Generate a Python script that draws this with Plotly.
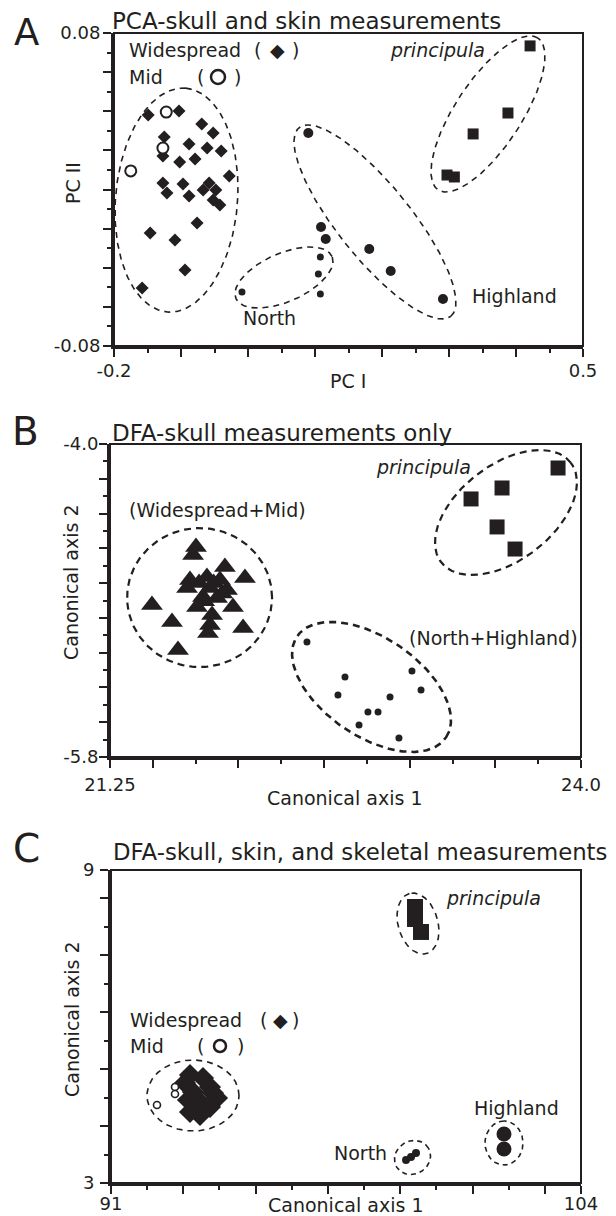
import numpy as np
import plotly.graph_objects as go

W, H = 616, 1216
OFF = 8  # page body margin offset of the rendered figure
INK = "#231f20"
FONT = "DejaVu Sans"

# ---------------- Panel A: PCA (PC I, PC II) ----------------
a_wide_x = [-0.149, -0.103, -0.069, -0.052, -0.125, -0.088, -0.061, -0.040, -0.127, -0.102,
            -0.079, -0.028, -0.127, -0.097, -0.058, -0.121, -0.088, -0.067, -0.048, -0.052,
            -0.042, -0.076, -0.146, -0.109, -0.094, -0.158]
a_wide_y = [0.0381, 0.0401, 0.0335, 0.0289, 0.0268, 0.0233, 0.0212, 0.0197, 0.0171, 0.0141,
            0.0156, 0.0069, 0.0033, 0.0028, 0.0033, -0.0018, -0.0033, -0.0003, -0.0003, -0.0054,
            -0.0079, -0.0171, -0.0222, -0.0258, -0.0411, -0.0504]
a_mid_x = [-0.122, -0.127, -0.175]
a_mid_y = [0.0396, 0.0212, 0.0095]
a_high_x = [0.090, 0.109, 0.116, 0.181, 0.213, 0.291]
a_high_y = [0.0289, -0.0192, -0.0253, -0.0304, -0.0417, -0.0560]
a_north_x = [-0.009, 0.108, 0.105, 0.108]
a_north_y = [-0.0524, -0.0345, -0.0432, -0.0534]
a_princ_x = [0.421, 0.388, 0.336, 0.297, 0.308]
a_princ_y = [0.0734, 0.0391, 0.0284, 0.0074, 0.0064]

# ---------------- Panel B: DFA skull only ----------------
b_wm_x = [21.752, 21.735, 21.921, 22.038, 21.717, 21.816, 21.892, 21.700, 21.834, 21.933, 21.793,
          21.875, 21.495, 21.758, 21.968, 21.846, 21.612, 21.834, 22.027, 21.822, 21.647,
          21.770, 21.855, 21.905, 21.800]
b_wm_y = [-4.592, -4.638, -4.707, -4.771, -4.782, -4.765, -4.782, -4.828, -4.828, -4.840, -4.880,
          -4.886, -4.926, -4.937, -4.937, -4.983, -5.024, -5.041, -5.058, -5.087, -5.185,
          -4.800, -4.800, -4.860, -4.905]
b_princ_x = [23.866, 23.539, 23.358, 23.510, 23.615]
b_princ_y = [-4.138, -4.253, -4.316, -4.477, -4.604]
b_nh_x = [22.400, 22.622, 22.581, 22.756, 22.815, 22.704, 22.885, 23.013, 23.066, 22.937]
b_nh_y = [-5.139, -5.340, -5.443, -5.541, -5.541, -5.616, -5.455, -5.305, -5.415, -5.691]

# ---------------- Panel C: DFA skull, skin, skeletal ----------------
c_wide_x = [93.185, 93.545, 93.047, 93.738, 93.268, 93.821, 93.130, 93.932, 93.462, 93.185, 93.462, 93.738]
c_wide_y = [5.070, 5.013, 4.917, 4.840, 4.744, 4.725, 4.591, 4.629, 4.553, 4.361, 4.304, 4.457]
c_mid_x = [92.770, 92.770, 92.272]
c_mid_y = [4.840, 4.706, 4.495]
c_princ_x = [99.409, 99.409, 99.575]
c_princ_y = [8.291, 8.061, 7.812]
c_north_x = [99.160, 99.298, 99.436]
c_north_y = [3.441, 3.498, 3.575]
c_high_x = [101.870, 101.870]
c_high_y = [3.939, 3.652]

# axis ranges and tick labels
A_XR, A_YR = [-0.2, 0.5], [-0.08, 0.08]
B_XR, B_YR = [21.25, 24.0], [-5.8, -4.0]
C_XR, C_YR = [91, 104], [3, 9]
A_XLAB, A_YLAB = ["-0.2", "0.5"], ["-0.08", "0.08"]
B_XLAB, B_YLAB = ["21.25", "24.0"], ["-5.8", "-4.0"]
C_XLAB, C_YLAB = ["91", "104"], ["3", "9"]

# plot boxes in page pixels (left, right, top, bottom)
BOX = {1: (114, 583, 33, 346), 2: (110, 581, 444, 757), 3: (111, 581, 870, 1183)}


def fx(p):
    return (p - OFF) / W


def fy(p):
    return 1 - (p - OFF) / H


def ellipse(cx, cy, a_px, b_px, ang, xr, yr, box):
    x0, x1, y0, y1 = box
    sx = (x1 - x0) / (xr[1] - xr[0])
    sy = (y1 - y0) / (yr[1] - yr[0])
    t = np.linspace(0, 2 * np.pi, 241)
    th = np.radians(ang)
    u, v = a_px * np.cos(t), b_px * np.sin(t)
    dx = u * np.cos(th) - v * np.sin(th)
    dy = u * np.sin(th) + v * np.cos(th)
    return cx + dx / sx, cy + dy / sy


fig = go.Figure()


def add_ell(n, cx, cy, a, b, ang, xr, yr, width, dash):
    ex, ey = ellipse(cx, cy, a, b, ang, xr, yr, BOX[n])
    fig.add_trace(go.Scatter(x=ex, y=ey, mode="lines", xaxis=f"x{n if n > 1 else ''}",
                             yaxis=f"y{n if n > 1 else ''}",
                             line=dict(color=INK, width=width, dash=dash), hoverinfo="skip"))


def add_pts(n, xs, ys, symbol, size, fill=INK, lw=0):
    fig.add_trace(go.Scatter(x=xs, y=ys, mode="markers", xaxis=f"x{n if n > 1 else ''}",
                             yaxis=f"y{n if n > 1 else ''}", cliponaxis=False,
                             marker=dict(symbol=symbol, size=size, color=fill,
                                         line=dict(color=INK, width=lw))))


# Panel A ellipses and points
add_ell(1, -0.1067, -0.0054, 112.3, 61, 85.3, A_XR, A_YR, 1.6, "6px,5px")
add_ell(1, 0.1895, -0.0166, 121, 36.5, -51.2, A_XR, A_YR, 1.6, "6px,5px")
add_ell(1, 0.3582, 0.0386, 90.8, 33.1, 56.7, A_XR, A_YR, 1.6, "6px,5px")
add_ell(1, 0.0537, -0.0450, 52.4, 24.2, 23.6, A_XR, A_YR, 1.6, "6px,5px")
add_pts(1, a_wide_x, a_wide_y, "diamond", 10)
add_pts(1, a_mid_x, a_mid_y, "circle", 11, fill="white", lw=2)
add_pts(1, a_high_x, a_high_y, "circle", 10)
add_pts(1, a_north_x, a_north_y, "circle", 7)
add_pts(1, a_princ_x, a_princ_y, "square", 11)

# Panel B
add_ell(2, 21.773, -4.883, 72.5, 69.5, 0, B_XR, B_YR, 2.2, "7px,5px")
add_ell(2, 23.562, -4.394, 81.7, 47.7, 37.5, B_XR, B_YR, 2.2, "7px,5px")
add_ell(2, 22.777, -5.397, 90, 49.4, -34.2, B_XR, B_YR, 2.6, "7px,5px")
add_pts(2, b_wm_x, b_wm_y, "triangle-up", 19)
add_pts(2, b_princ_x, b_princ_y, "square", 15)
add_pts(2, b_nh_x, b_nh_y, "circle", 7)

# Panel C
add_ell(3, 93.268, 4.677, 46, 35.5, 0, C_XR, C_YR, 1.6, "6px,5px")
add_ell(3, 99.492, 7.974, 31.2, 19.9, 106, C_XR, C_YR, 1.6, "6px,5px")
add_ell(3, 99.340, 3.489, 18.5, 16.5, 30, C_XR, C_YR, 1.6, "5px,4px")
add_ell(3, 101.870, 3.767, 22, 19, 90, C_XR, C_YR, 1.6, "5px,4px")
add_pts(3, c_wide_x, c_wide_y, "diamond", 17)
add_pts(3, c_mid_x, c_mid_y, "circle", 7, fill="white", lw=1.6)
add_pts(3, c_princ_x, c_princ_y, "square", 16)
add_pts(3, c_north_x, c_north_y, "circle", 8)
add_pts(3, c_high_x, c_high_y, "circle", 15)


def axis(rng, major, minor, labels, dom, anchor, standoff):
    text = [labels[0]] + [""] * (len(major) - 2) + [labels[1]]
    return dict(range=rng, domain=dom, anchor=anchor, showline=True, linewidth=3, linecolor=INK,
                ticks="outside", ticklen=8, tickwidth=2, tickcolor=INK, tickmode="array",
                tickvals=major, ticktext=text, showgrid=False, zeroline=False, automargin=False,
                tickfont=dict(family=FONT, size=18, color=INK), ticklabelstandoff=standoff,
                minor=dict(tickmode="array", tickvals=minor, ticks="outside", ticklen=4,
                           tickwidth=2, tickcolor=INK, showgrid=False),
                fixedrange=True)


def xdom(n):
    b = BOX[n]
    return [fx(b[0]), fx(b[1])]


def ydom(n):
    b = BOX[n]
    return [fy(b[3]), fy(b[2])]


a_xmaj = [-0.2, -0.1, 0.0, 0.1, 0.2, 0.3, 0.4, 0.5]
a_xmin = [-0.15, -0.05, 0.05, 0.15, 0.25, 0.35, 0.45]
a_ymaj = [-0.08, -0.06, -0.04, -0.02, 0.0, 0.02, 0.04, 0.06, 0.08]
a_ymin = [-0.07, -0.05, -0.03, -0.01, 0.01, 0.03, 0.05, 0.07]
b_xmaj = [21.25, 21.5, 22.0, 22.5, 23.0, 23.5, 24.0]
b_xmin = [21.75, 22.25, 22.75, 23.25, 23.75]
b_ymaj = [-5.8, -5.6, -5.4, -5.2, -5.0, -4.8, -4.6, -4.4, -4.2, -4.0]
b_ymin = [-5.7, -5.5, -5.3, -5.1, -4.9, -4.7, -4.5, -4.3, -4.1]
c_xmaj = [91, 93, 95, 97, 99, 101, 103, 104]
c_xmin = [92, 94, 96, 98, 100, 102]
c_step = 6 / 11
c_ymaj = [3 + 2 * k * c_step for k in range(6)] + [9]
c_ymin = [3 + (2 * k + 1) * c_step for k in range(5)]

fig.update_layout(
    width=W, height=H, margin=dict(l=0, r=0, t=0, b=0, pad=0, autoexpand=False),
    paper_bgcolor="white", plot_bgcolor="white", showlegend=False,
    xaxis=axis(A_XR, a_xmaj, a_xmin, A_XLAB, xdom(1), "y", -2),
    yaxis=axis(A_YR, a_ymaj, a_ymin, A_YLAB, ydom(1), "x", -1),
    xaxis2=axis(B_XR, b_xmaj, b_xmin, B_XLAB, xdom(2), "y2", 1),
    yaxis2=axis(B_YR, b_ymaj, b_ymin, B_YLAB, ydom(2), "x2", -3),
    xaxis3=axis(C_XR, c_xmaj, c_xmin, C_XLAB, xdom(3), "y3", -6),
    yaxis3=axis(C_YR, c_ymaj, c_ymin, C_YLAB, ydom(3), "x3", 2),
)

# frame (thinner top/right edges)
for n in (1, 2, 3):
    s = "" if n == 1 else str(n)
    fig.add_shape(type="rect", xref=f"x{s} domain", yref=f"y{s} domain", x0=0, x1=1, y0=0, y1=1,
                  line=dict(color=INK, width=2))

ann = []


def txt(t, x, y, size=19, xa="center", italic=False, angle=0, ya="middle"):
    ann.append(dict(text=t, x=fx(x), y=fy(y), xref="paper", yref="paper", xanchor=xa,
                    yanchor=ya, showarrow=False, textangle=angle,
                    font=dict(family=FONT, size=size, color=INK,
                              style="italic" if italic else "normal")))


# Panel A texts
txt("A", 26, 9, 37, ya="top")
txt("PCA-skull and skin measurements", 110, 21, 23, "left")
txt("Widespread", 127, 50, xa="left")
txt("(", 257, 50); txt("◆", 277, 50); txt(")", 295, 50)
txt("Mid", 127, 77, xa="left")
txt("(", 200, 77); txt(")", 237, 77)
txt("principula", 487, 50, xa="right", italic=True)
txt("North", 298, 318, xa="right")
txt("Highland", 470, 296, xa="left")
txt("PC II", 73, 183, angle=-90)
txt("PC I", 348, 381)

# Panel B texts
txt("B", 25, 432, 39)
txt("DFA-skull measurements only", 110, 433, 23, "left")
txt("(Widespread+Mid)", 127, 510, xa="left")
txt("principula", 473, 467, xa="right", italic=True)
txt("(North+Highland)", 580, 638, xa="right")
txt("Canonical axis 2", 71, 582, angle=-90)
txt("Canonical axis 1", 345, 798)

# Panel C texts
txt("C", 26, 848, 39)
txt("DFA-skull, skin, and skeletal measurements", 111, 852, 22.8, "left")
txt("principula", 444, 898, xa="left", italic=True)
txt("Highland", 472, 1108, xa="left")
txt("North", 389, 1153, xa="right")
txt("Widespread", 128, 1020, xa="left")
txt("(", 263, 1020); txt("◆", 280, 1020); txt(")", 295, 1020)
txt("Mid", 128, 1046, xa="left")
txt("(", 200, 1046); txt(")", 240, 1046)
txt("Canonical axis 2", 72, 1019, angle=-90)
txt("Canonical axis 1", 346, 1205)

fig.update_layout(annotations=ann)

# open-circle key glyphs for "Mid"
for (cx, cy, r) in [(218, 77, 7), (220, 1046, 6)]:
    fig.add_shape(type="circle", xref="paper", yref="paper", xsizemode="pixel", ysizemode="pixel",
                  xanchor=fx(cx), yanchor=fy(cy), x0=-r, x1=r, y0=-r, y1=r,
                  line=dict(color=INK, width=2.5))

fig.write_html("out.html")
